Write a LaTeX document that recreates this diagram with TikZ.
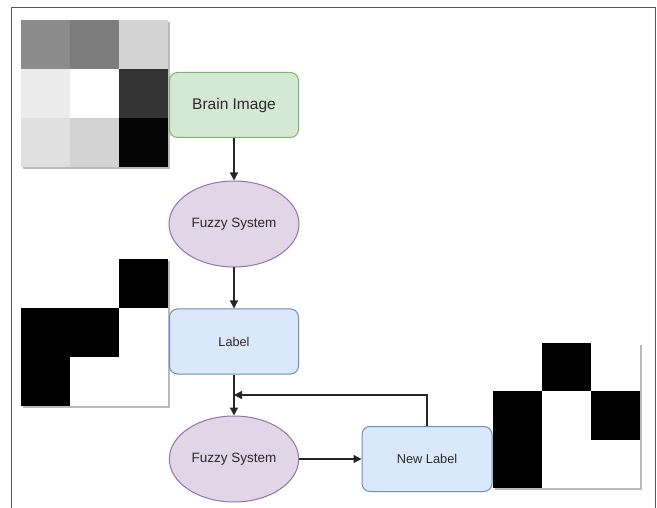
\documentclass[tikz,border=0pt]{standalone}
\usepackage{fontspec}
\setmainfont{Liberation Sans}
\usetikzlibrary{shapes.geometric,arrows.meta}
\definecolor{gfill}{HTML}{D5E8D4}\definecolor{gline}{HTML}{82B366}
\definecolor{pfill}{HTML}{E1D5E7}\definecolor{pline}{HTML}{9673A6}
\definecolor{bfill}{HTML}{DAE8FC}\definecolor{bline}{HTML}{6C8EBF}
\definecolor{txt}{HTML}{2A2A2A}
\definecolor{frame}{HTML}{555555}
\begin{document}
\begin{tikzpicture}[x=1pt,y=-1pt,
  rbox/.style={draw, rounded corners=8pt, minimum width=129pt, minimum height=65pt, text=txt, line width=1pt},
  ell/.style={ellipse, draw, minimum width=129pt, minimum height=86pt, fill=pfill, draw=pline, text=txt, line width=1pt, font=\fontsize{13.5}{15}\selectfont},
  conn/.style={draw=black!85, line width=1.3pt, -{Triangle[width=8pt,length=8pt]}},
  shadowbox/.style={fill=black!45, opacity=0.6}]
\useasboundingbox (0,0) rectangle (657,508);
\fill[white] (0,0) rectangle (657,508);
% frame
\draw[frame, line width=1pt] (11,508) -- (11,8) -- (655,8) -- (655,508);
% top-left grid
\fill[shadowbox] (23,22) rectangle (170,169);
\foreach \c/\i/\j in {8C8C8C/0/0, 7D7D7D/1/0, D3D3D3/2/0, ECECEC/0/1, FFFFFF/1/1, 333333/2/1, E0E0E0/0/2, D3D3D3/1/2, 050505/2/2}{
  \definecolor{cc}{HTML}{\c}
  \fill[cc] (21+49*\i,20+49*\j) rectangle (21+49*\i+49,20+49*\j+49);
}
% middle-left grid
\fill[shadowbox] (23,261) rectangle (170,408);
\fill[white] (21,259) rectangle (168,406);
\foreach \i/\j in {2/0, 0/1, 1/1, 0/2}{
  \fill[black] (21+49*\i,259+49*\j) rectangle (21+49*\i+49,259+49*\j+49);
}
% right grid
\fill[shadowbox] (495,345) rectangle (642,490);
\fill[white] (493,343) rectangle (640,488);
\foreach \i/\j in {1/0, 0/1, 2/1, 0/2}{
  \fill[black] (493+49*\i,343+48.3*\j) rectangle (493+49*\i+49,343+48.3*\j+48.3);
}
% nodes
\node[rbox, fill=gfill, draw=gline, font=\fontsize{15.5}{18}\selectfont] (brain) at (234,105) {Brain Image};
\node[ell, minimum width=130pt] (fz1) at (234,224) {Fuzzy System};
\node[rbox, fill=bfill, draw=bline, font=\fontsize{12.7}{15}\selectfont] (lab) at (234,341.5) {Label};
\node[ell, minimum width=128pt] (fz2) at (234,459) {Fuzzy System};
\node[rbox, fill=bfill, draw=bline, minimum width=130pt, font=\fontsize{12.8}{15}\selectfont] (newl) at (427,459) {New Label};
\coordinate (fb) at (234,395);
% connectors
\draw[conn] (brain.south) -- (fz1.north);
\draw[conn] (fz1.south) -- (lab.north);
\draw[conn] (lab.south) -- (fz2.north);
\draw[conn] (fz2.east) -- (newl.west);
\draw[conn] (newl.north) |- (fb);
\end{tikzpicture}
\end{document}
